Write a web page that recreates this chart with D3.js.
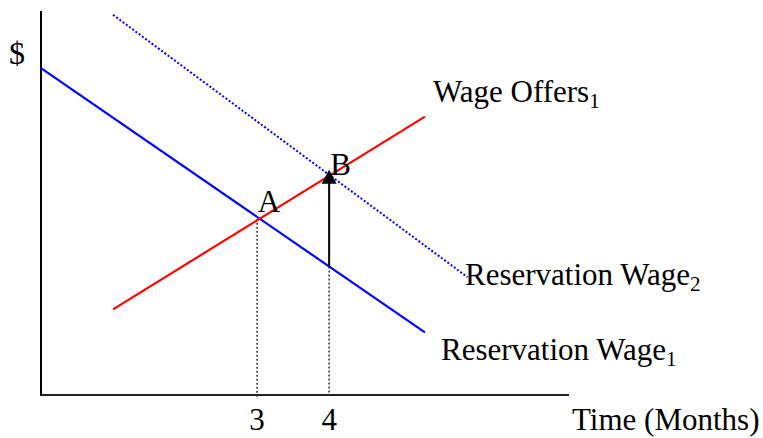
<!DOCTYPE html>
<html>
<head>
<meta charset="utf-8">
<script src="https://cdn.jsdelivr.net/npm/d3@7"></script>
<style>
  body { margin: 0; background: #fff; overflow: hidden; }
  text { font-family: "Liberation Serif", "Times New Roman", serif; fill: #000; }
</style>
</head>
<body>
<script>
// months on x, dollars on y (arbitrary units)
const xTicks = [3, 4];
const reservation1 = [[0, 8.51], [5.33, 1.63]];
const reservation2 = [[1, 9.9], [5.92, 3.07]];
const wageOffers = [[1, 2.23], [5.33, 7.25]];

const width = 763, height = 438;
const svg = d3.select("body").append("svg")
  .attr("width", width)
  .attr("height", height)
  .style("display", "block");

const x = d3.scaleLinear().domain([0, 7.33]).range([41, 569]);
const y = d3.scaleLinear().domain([0, 10]).range([395, 11]);

const at = (seg, t) => seg[0][1] + (seg[1][1] - seg[0][1]) * (t - seg[0][0]) / (seg[1][0] - seg[0][0]);

// intersection of reservation wage 1 and wage offers -> point A
const s1 = (reservation1[1][1] - reservation1[0][1]) / (reservation1[1][0] - reservation1[0][0]);
const s2 = (wageOffers[1][1] - wageOffers[0][1]) / (wageOffers[1][0] - wageOffers[0][0]);
const tA = (wageOffers[0][1] - s2 * wageOffers[0][0] - reservation1[0][1]) / (s1 - s2);
const vA = at(reservation1, tA);

const line = d3.line().x(d => x(d[0])).y(d => y(d[1]));

// axes
svg.append("line")
  .attr("x1", x(0)).attr("x2", x(0))
  .attr("y1", y(10)).attr("y2", y(0) + 1)
  .attr("stroke", "#000").attr("stroke-width", 2);
svg.append("line")
  .attr("x1", x(0)).attr("x2", x(7.33))
  .attr("y1", y(0)).attr("y2", y(0))
  .attr("stroke", "#222").attr("stroke-width", 2);

// dotted drop lines
svg.append("line")
  .attr("x1", x(xTicks[0])).attr("x2", x(xTicks[0]))
  .attr("y1", y(vA)).attr("y2", y(0) + 4)
  .attr("stroke", "#333").attr("stroke-width", 1.5)
  .attr("stroke-dasharray", "2,2");
svg.append("line")
  .attr("x1", x(xTicks[1])).attr("x2", x(xTicks[1]))
  .attr("y1", y(at(reservation1, xTicks[1]))).attr("y2", y(0))
  .attr("stroke", "#333").attr("stroke-width", 1.5)
  .attr("stroke-dasharray", "2,2");

// curves
svg.append("path").datum(reservation2).attr("d", line)
  .attr("fill", "none").attr("stroke", "#0000ff").attr("stroke-width", 2)
  .attr("stroke-dasharray", "2,2");
svg.append("path").datum(reservation1).attr("d", line)
  .attr("fill", "none").attr("stroke", "#0000ff").attr("stroke-width", 2.2);
svg.append("path").datum(wageOffers).attr("d", line)
  .attr("fill", "none").attr("stroke", "#ff0000").attr("stroke-width", 2.2);

// arrow from reservation wage 1 up to wage offers at month 4
const ax = x(xTicks[1]);
const yBase = y(at(reservation1, xTicks[1]));
const yTip = y(at(wageOffers, xTicks[1])) - 6;
svg.append("line")
  .attr("x1", ax).attr("x2", ax)
  .attr("y1", yBase).attr("y2", yTip + 10)
  .attr("stroke", "#000").attr("stroke-width", 2);
svg.append("path")
  .attr("d", `M${ax},${yTip}L${ax - 7.5},${yTip + 14}L${ax + 7.5},${yTip + 14}Z`)
  .attr("fill", "#000");

// labels
const fs = 31;
svg.append("text").attr("x", 9).attr("y", 64).attr("font-size", fs + 1).text("$");
svg.append("text").attr("x", x(tA) - 2).attr("y", 212).attr("font-size", fs).text("A");
svg.append("text").attr("x", ax + 1).attr("y", 175).attr("font-size", fs).text("B");

function subLabel(px, py, main, sub) {
  const t = svg.append("text").attr("x", px).attr("y", py).attr("font-size", fs);
  t.append("tspan").text(main);
  t.append("tspan").attr("font-size", 21).attr("dy", 6).text(sub);
}
subLabel(433, 102, "Wage Offers", "1");
subLabel(465, 285, "Reservation Wage", "2");
subLabel(441, 360, "Reservation Wage", "1");

svg.selectAll(".tick-label").data(xTicks).enter().append("text")
  .attr("class", "tick-label")
  .attr("x", d => x(d)).attr("y", 430)
  .attr("text-anchor", "middle").attr("font-size", fs)
  .text(d => d);
svg.append("text").attr("x", 572).attr("y", 430).attr("font-size", fs).text("Time (Months)");
</script>
</body>
</html>
